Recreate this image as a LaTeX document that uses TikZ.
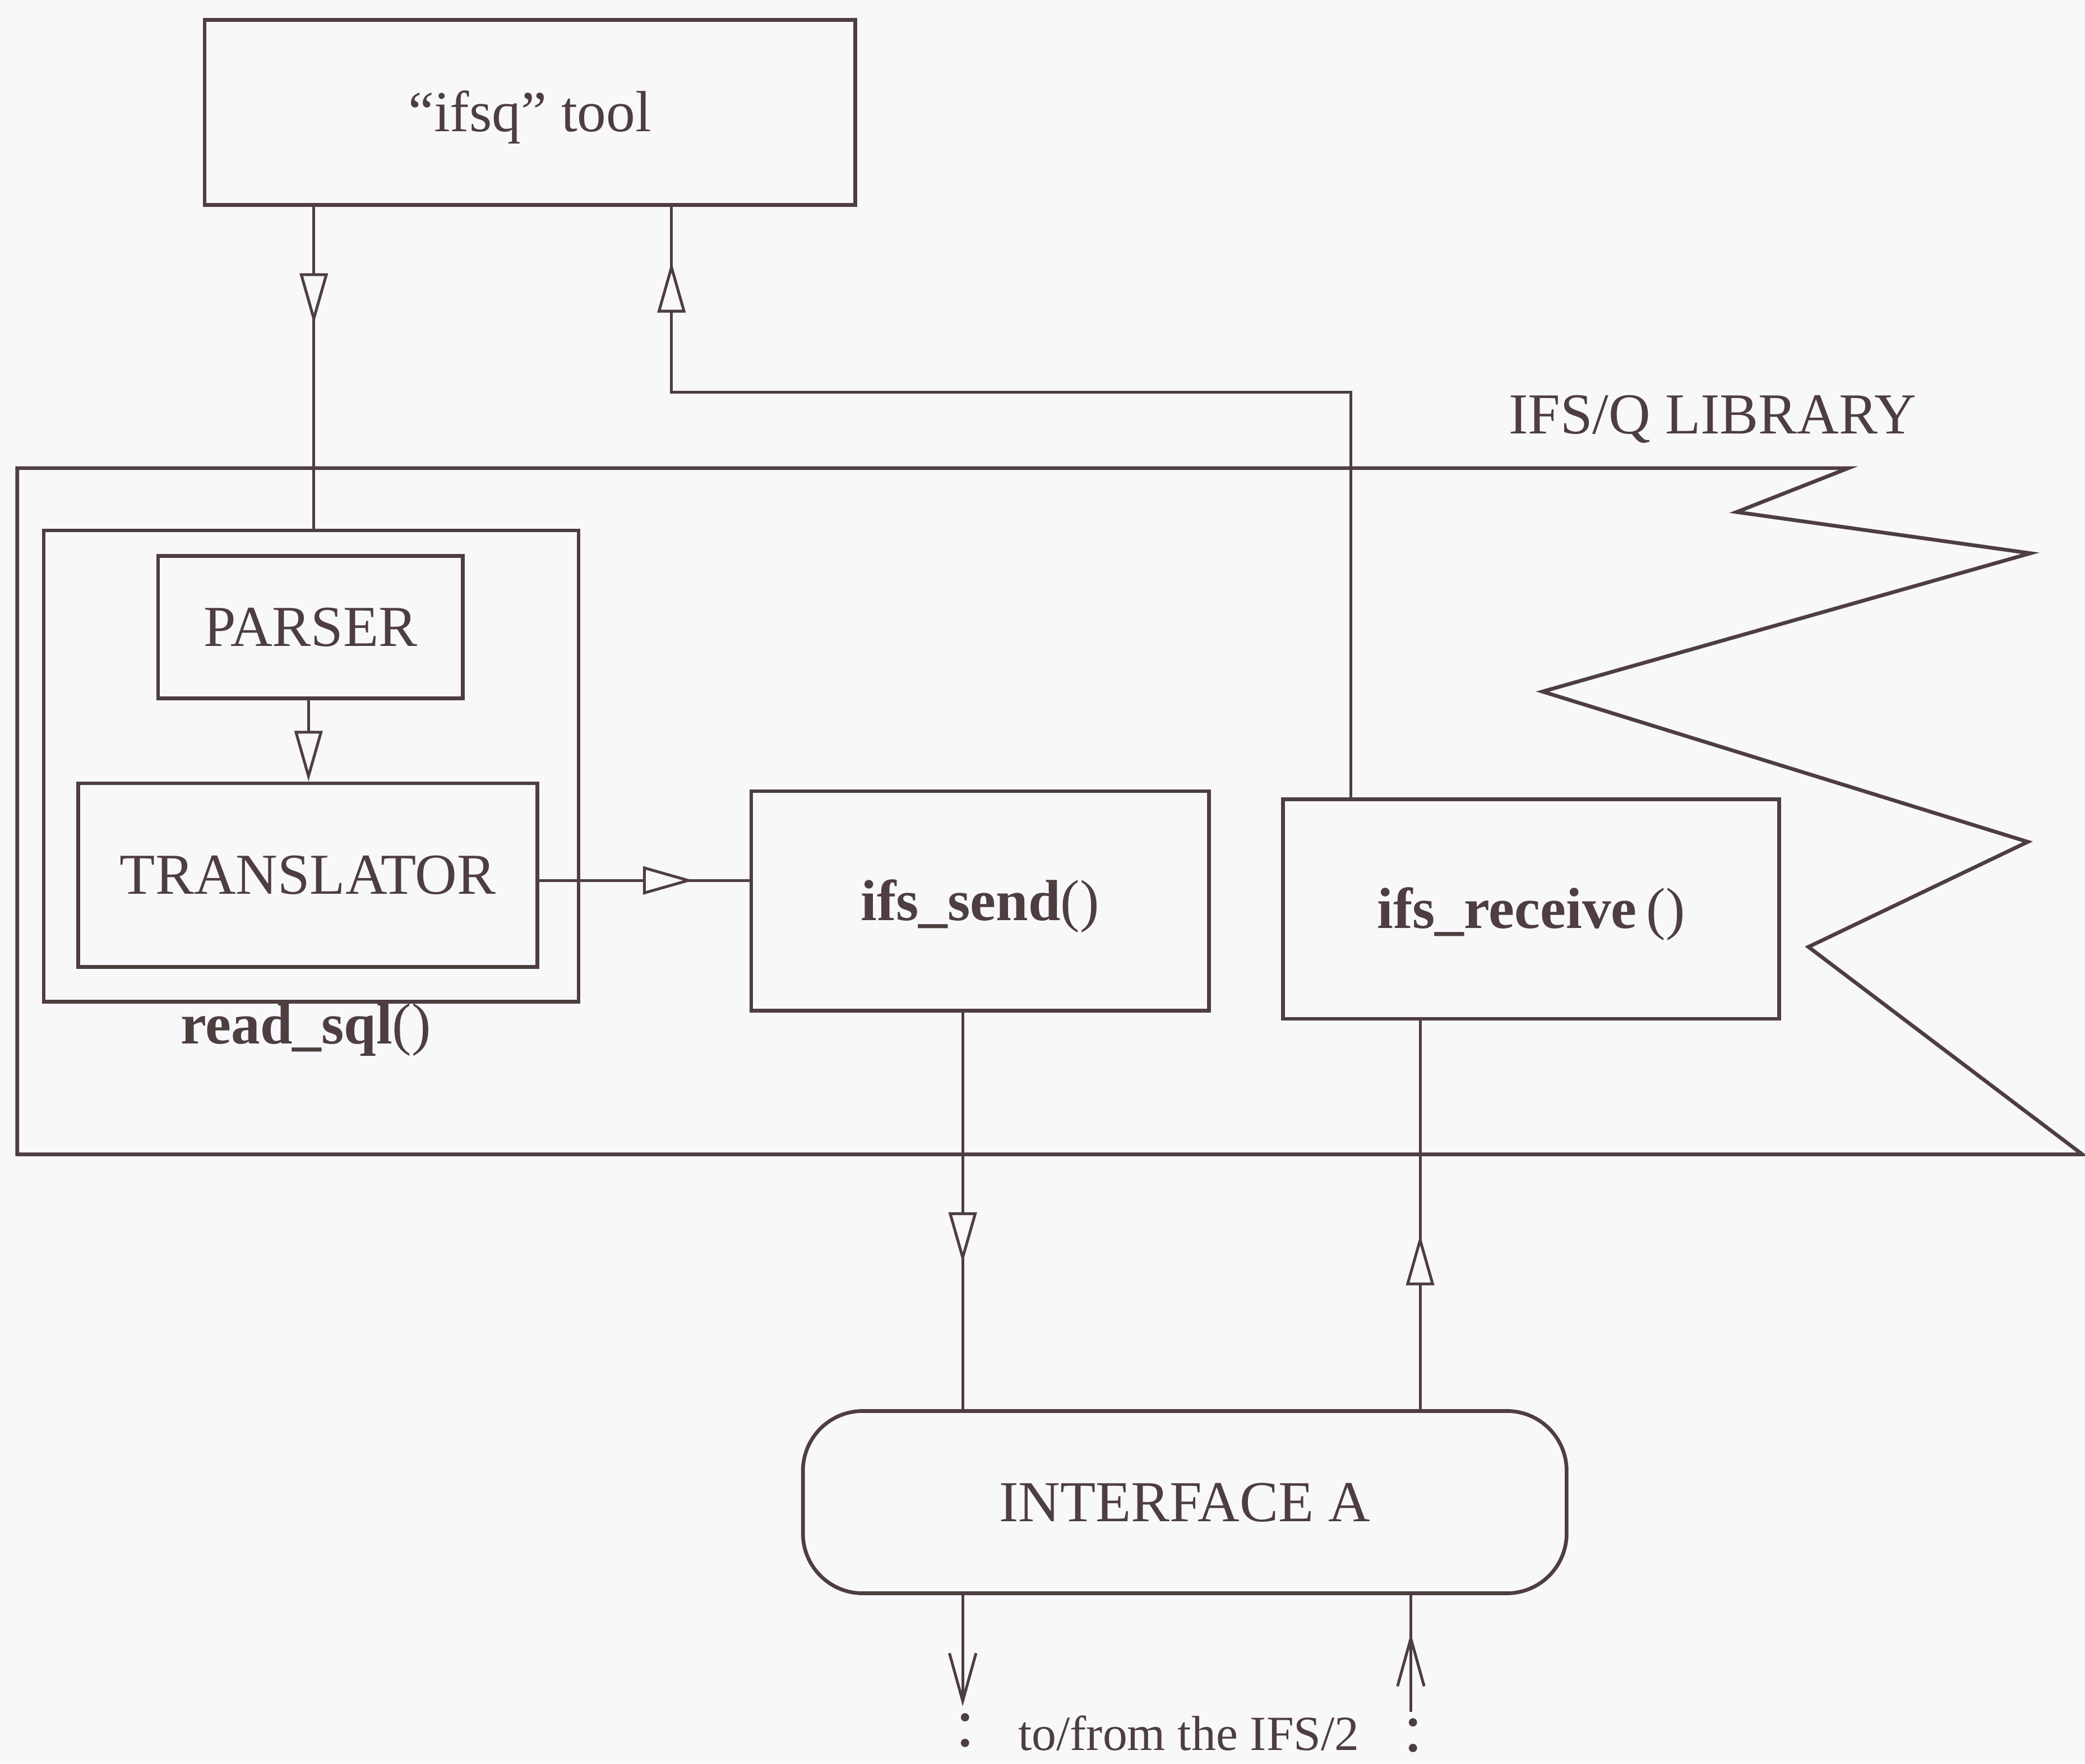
\documentclass[tikz,border=0pt]{standalone}
\usepackage{fontspec}
\setmainfont{Liberation Serif}
\usetikzlibrary{arrows.meta,decorations.markings}
\definecolor{ink}{RGB}{78,62,64}
\definecolor{bgc}{RGB}{248,248,250}
\newcommand\mainfs{\fontsize{12.4}{14}\selectfont}
\tikzset{
  tri/.tip={Triangle[fill=bgc,length=0.38cm,width=0.21cm]},
  barb/.tip={Straight Barb[length=0.36cm,width=0.2cm]},
  box/.style={draw=ink, line width=0.8pt, text=ink, inner sep=0pt, font=\mainfs, text height=8.2pt, text depth=0pt},
  conn/.style={ink, line width=0.6pt},
  midtri/.style={postaction={decorate}, decoration={markings, mark=at position #1 with {\arrow{tri}}}},
  midbarb/.style={postaction={decorate}, decoration={markings, mark=at position #1 with {\arrow{barb}}}},
  lbl/.style={text=ink, font=\mainfs, inner sep=0pt, anchor=base},
}
\begin{document}
\begin{tikzpicture}[x=0.01cm, y=-0.01cm]
\fill[bgc] (0,0) rectangle (1568,1326);
\useasboundingbox (0,0) rectangle (1568,1326);

% library outline
\draw[ink, line width=0.8pt] (13,352) -- (1390,352) -- (1306,385) -- (1527,416) -- (1160,520) -- (1525,633) -- (1360,712) -- (1566,868) -- (13,868) -- cycle;
\node[lbl] (libl) at (1288,326) {IFS/Q LIBRARY};

% boxes
\node[box, minimum width=4.89cm, minimum height=1.39cm] (tool) at (398.5,84.5) {“ifsq” tool};
\node[box, minimum width=4.02cm, minimum height=3.54cm] (readsql) at (234,576) {};
\node[lbl] (rsl) at (230,785) {\textbf{read\_sql}()};
\node[box, minimum width=2.29cm, minimum height=1.07cm] (parser) at (233.5,471.5) {PARSER};
\node[box, minimum width=3.45cm, minimum height=1.38cm] (trans) at (231.5,658) {TRANSLATOR};
\node[box, minimum width=3.44cm, minimum height=1.65cm] (send) at (737,677.5) {\textbf{ifs\_send}()};
\node[box, minimum width=3.73cm, minimum height=1.65cm] (recv) at (1151.5,683.5) {\textbf{ifs\_receive}\,()};
\node[box, rounded corners=0.45cm, minimum width=5.74cm, minimum height=1.37cm] (iface) at (891,1129.5) {INTERFACE A};

\node[lbl] (tofrom) at (894,1316) {\fontsize{10.5}{12}\selectfont to/from the IFS/2};
\node[lbl] (c1) at (726,1313) {\fontsize{15}{16}\selectfont :};
\node[lbl] (c2) at (1063,1317) {\fontsize{15}{16}\selectfont :};

% helper coordinates
\coordinate (xa) at (236,0);
\coordinate (xb) at (232,0);
\coordinate (yc) at (0,662);
\coordinate (xd) at (1016,0);
\coordinate (xf) at (505,0);
\coordinate (yr) at (0,295);
\coordinate (xg) at (724,0);
\coordinate (xh) at (1068,0);
\coordinate (xi) at (1061,0);
\coordinate (dn) at (724,1283);
\coordinate (up) at (1061,1287);

% connectors
\draw[conn, midtri=0.88cm] (tool.south -| xa) -- (readsql.north -| xa);
\draw[conn, -{tri}] (parser.south -| xb) -- (trans.north -| xb);
\draw[conn, midtri=1.16cm] (trans.east |- yc) -- (send.west |- yc);
\draw[conn, midtri=9.13cm] (recv.north -| xd) -- (xd |- yr) -- (xf |- yr) -- (tool.south -| xf);
\draw[conn, midtri=1.88cm] (send.south -| xg) -- (iface.north -| xg);
\draw[conn, midtri=1.31cm] (iface.north -| xh) -- (recv.south -| xh);
\draw[conn, -{barb}] (iface.south -| xg) -- (dn);
\draw[conn, midbarb=0.59cm] (up) -- (iface.south -| xi);
\end{tikzpicture}
\end{document}
